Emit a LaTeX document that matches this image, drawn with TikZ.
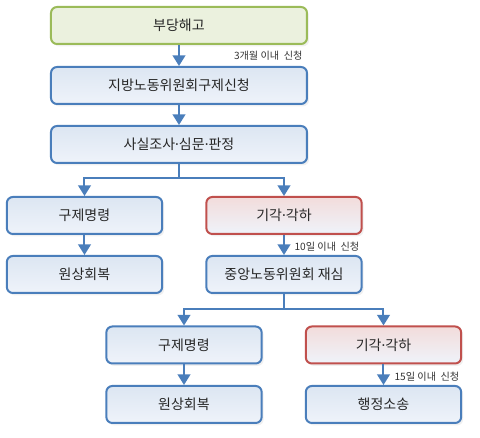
\documentclass[tikz,border=0pt]{standalone}
\usepackage{fontspec}
\setmainfont{Noto Sans CJK KR}
\newfontfamily\dotfont{Noto Sans}
\newcommand{\mdot}{{\dotfont ·}}
\usetikzlibrary{arrows.meta,shadows}
\definecolor{boxblue}{HTML}{4A7EBB}
\definecolor{boxred}{HTML}{C0504D}
\definecolor{boxgreen}{HTML}{9BBB59}
\definecolor{fillblue}{HTML}{DCE6F2}
\definecolor{fillpale}{HTML}{EFF3FA}
\definecolor{fillred}{HTML}{F2DCDB}
\definecolor{fillgreen}{HTML}{EBF1DE}
\begin{document}
\begin{tikzpicture}[x=0.75pt,y=-0.75pt,
	box/.style={draw=boxblue, line width=1.5pt, rounded corners=4.5pt, top color=fillblue, bottom color=fillpale,
		minimum height=27.75pt, font=\fontsize{10.5}{12}\selectfont, text=black!85,
		drop shadow={opacity=0.12, shadow xshift=1.5pt, shadow yshift=-1.8pt}},
	wide/.style={box, minimum width=192pt},
	half/.style={box, minimum width=116.5pt},
	reject/.style={half, draw=boxred, top color=fillred, bottom color=fillpale},
	start/.style={wide, draw=boxgreen, top color=fillgreen, bottom color=fillgreen},
	link/.style={draw=boxblue, line width=1.5pt, -{Triangle[width=9.5pt,length=8pt]}},
	note/.style={font=\fontsize{7.6}{9}\selectfont, text=black!80, inner sep=1pt}]

\useasboundingbox (0,0) rectangle (480,438);

% first column
\node[start] (haego) at (179,25.5) {부당해고};
\node[wide] (sincheong) at (179,85.5) {지방노동위원회구제신청};
\node[wide] (josa) at (179,144.5) {사실조사\mdot 심문\mdot 판정};

\node[half] (gujeA) at (84.5,215.5) {구제명령};
\node[reject] (gigakA) at (284,215.5) {기각\mdot 각하};
\node[half] (wonsangA) at (84.5,274.5) {원상회복};
\node[half] (jungang) at (284,274.5) {중앙노동위원회 재심};

\node[half] (gujeB) at (184,345) {구제명령};
\node[reject] (gigakB) at (383.5,345) {기각\mdot 각하};
\node[half] (wonsangB) at (184,404.5) {원상회복};
\node[half] (haengjeong) at (383.5,404.5) {행정소송};

% connectors
\draw[link] (haego) -- (sincheong);
\draw[link] (sincheong) -- (josa);
\draw[link] (josa.south) -- ++(0,14) -| (gujeA.north);
\draw[link] (josa.south) -- ++(0,14) -| (gigakA.north);
\draw[link] (gujeA) -- (wonsangA);
\draw[link] (gigakA) -- (jungang);
\draw[link] (jungang.south) -- ++(0,15) -| (gujeB.north);
\draw[link] (jungang.south) -- ++(0,15) -| (gigakB.north);
\draw[link] (gujeB) -- (wonsangB);
\draw[link] (gigakB) -- (haengjeong);

% deadlines
\node[note, anchor=east] (lblA) at (304,56) {3개월 이내~~신청};
\node[note, anchor=west] (lblB) at (293,247) {10일 이내~~신청};
\node[note, anchor=west] (lblC) at (393,377) {15일 이내~~신청};
\end{tikzpicture}
\end{document}
